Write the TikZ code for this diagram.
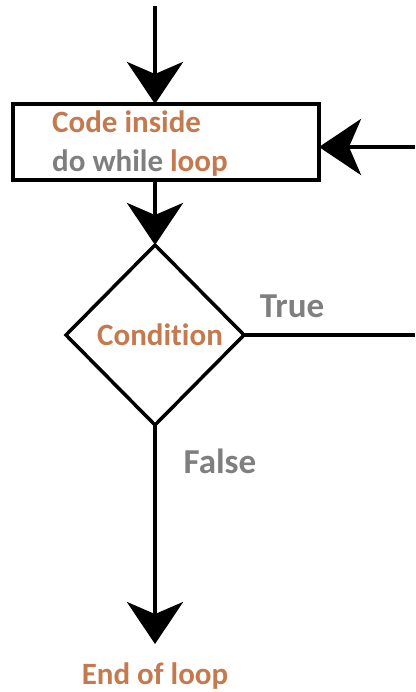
\documentclass[tikz,border=0pt]{standalone}
\usepackage{fontspec}
\setmainfont{Carlito}[Ligatures=NoCommon]
\usetikzlibrary{arrows.meta,shapes.geometric}
\definecolor{txtor}{HTML}{C47A4E}
\definecolor{txtgr}{HTML}{7F7F7F}
\tikzset{
  arr/.style={line width=4.5pt,-{Stealth[length=42pt,width=56pt,inset=12pt]}},
  plain/.style={line width=4.5pt},
  lbl/.style={font=\bfseries\fontsize{31}{37}\selectfont, inner sep=0pt},
  big/.style={font=\bfseries\fontsize{35}{40}\selectfont, inner sep=0pt, text=txtgr},
}
\begin{document}
\begin{tikzpicture}[x=1pt,y=-1pt]
\useasboundingbox (0,0) rectangle (415,692);
\node[draw, line width=4pt, minimum width=306pt, minimum height=76pt, inner sep=0pt, outer sep=0pt] (box) at (166,142) {};
\node[lbl, anchor=base west, text=txtor] (t1) at (52,133) {Code inside};
\node[lbl, anchor=base west] (t2) at (52,172) {\textcolor{txtgr}{do while} \textcolor{txtor}{loop}};
\node[diamond, draw, line width=3.5pt, minimum width=178pt, minimum height=180pt, inner sep=0pt, outer sep=0pt] (dia) at (155,335) {};
\node[lbl, text=txtor] (cond) at (160,335) {Condition};
\node[big, anchor=base] (true) at (292,317) {True};
\node[big, anchor=base] (false) at (220,473) {False};
\node[lbl, anchor=base, text=txtor, inner ysep=18pt] (end) at (155,684) {End of loop};
\coordinate (top) at (155,6);
\coordinate (rin) at (415,147);
\coordinate (rout) at (415,335);
\draw[arr] (top) -- (top |- box.north);
\draw[arr] (rin) -- (box.east |- rin);
\draw[arr] (top |- box.south) -- (dia.north);
\draw[plain] (dia.east) -- (rout);
\draw[arr] (dia.south) -- (end.north);
\end{tikzpicture}
\end{document}
